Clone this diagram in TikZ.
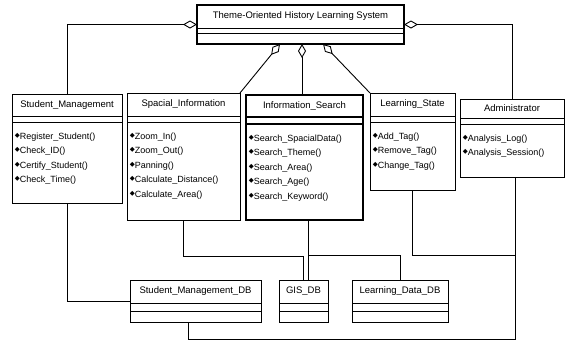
\documentclass[tikz,border=0pt]{standalone}
\usepackage{fontspec}
\setmainfont{Liberation Sans}
\newfontfamily\symfont{DejaVu Sans}
\usetikzlibrary{arrows.meta}
\tikzset{
  clsbox/.style={draw, line width=0.8pt, inner sep=0pt, outer sep=0pt},
  boldbox/.style={clsbox, line width=1.2pt},
  cname/.style={inner sep=0.75pt, font=\fontsize{9.5}{11}\selectfont},
  oper/.style={anchor=west, inner sep=0.75pt, font=\fontsize{9}{11}\selectfont},
  link/.style={line width=0.9pt},
  agg/.style={link, {Diamond[open, length=14pt, width=8pt, line width=0.9pt]}-},
}
\newcommand{\opmark}{\raisebox{0.4ex}{\symfont\fontsize{6.5}{6.5}\selectfont ◆}}
\begin{document}
\begin{tikzpicture}[x=1pt,y=1pt,yscale=-1,xscale=1]
\useasboundingbox (0,0) rectangle (573,341);

%Shape: Class Rectangles
\node [boldbox, minimum width=207pt, minimum height=39pt] (sys) at (300.5,24.5) {};
\node [clsbox, minimum width=110pt, minimum height=109pt] (sm) at (67,148.5) {};
\node [clsbox, minimum width=113pt, minimum height=127pt] (si) at (183.5,156.5) {};
\node [boldbox, minimum width=117pt, minimum height=125pt] (is) at (304.5,157.5) {};
\node [clsbox, minimum width=85pt, minimum height=97pt] (ls) at (412.5,141.5) {};
\node [clsbox, minimum width=104pt, minimum height=78pt] (ad) at (512,138) {};
\node [clsbox, minimum width=131pt, minimum height=42pt] (smdb) at (195.5,301) {};
\node [clsbox, minimum width=49pt, minimum height=42pt] (gis) at (303.5,301) {};
\node [clsbox, minimum width=96pt, minimum height=42pt] (ldb) at (400,301) {};

%Shape: Compartment Lines
\draw [line width=0.8pt] (sys.west |- 0,28) -- (sys.east |- 0,28) (sys.west |- 0,33) -- (sys.east |- 0,33);
\draw [line width=0.8pt] (sm.west |- 0,116) -- (sm.east |- 0,116) (sm.west |- 0,122) -- (sm.east |- 0,122);
\draw [line width=0.8pt] (si.west |- 0,116) -- (si.east |- 0,116) (si.west |- 0,122) -- (si.east |- 0,122);
\draw [line width=1.2pt] (is.west |- 0,117) -- (is.east |- 0,117) (is.west |- 0,124) -- (is.east |- 0,124);
\draw [line width=0.8pt] (ls.west |- 0,116) -- (ls.east |- 0,116) (ls.west |- 0,122) -- (ls.east |- 0,122);
\draw [line width=0.8pt] (ad.west |- 0,118) -- (ad.east |- 0,118) (ad.west |- 0,124) -- (ad.east |- 0,124);
\draw [line width=0.8pt] (smdb.west |- 0,303) -- (smdb.east |- 0,303) (smdb.west |- 0,311) -- (smdb.east |- 0,311);
\draw [line width=0.8pt] (gis.west |- 0,303) -- (gis.east |- 0,303) (gis.west |- 0,311) -- (gis.east |- 0,311);
\draw [line width=0.8pt] (ldb.west |- 0,303) -- (ldb.east |- 0,303) (ldb.west |- 0,311) -- (ldb.east |- 0,311);

% Text Node
\node [cname] (sysname) at (300.5,16.5) {Theme-Oriented History Learning System};
\node [cname] (smname) at (67,105) {Student\_Management};
\node [cname] (siname) at (183.5,104.5) {Spacial\_Information};
\node [cname] (isname) at (304.5,106) {Information\_Search};
\node [cname] (lsname) at (412.5,104.5) {Learning\_State};
\node [cname] (adname) at (512,108.5) {Administrator};
\node [cname] (smdbname) at (195.5,291.5) {Student\_Management\_DB};
\node [cname] (gisname) at (303.5,291.5) {GIS\_DB};
\node [cname] (ldbname) at (400,291.5) {Learning\_Data\_DB};

% Text Node
\node [oper] (sm1) at (14,137) {\opmark Register\_Student()};
\node [oper] (sm2) at (14,151.5) {\opmark Check\_ID()};
\node [oper] (sm3) at (14,166) {\opmark Certify\_Student()};
\node [oper] (sm4) at (14,180.5) {\opmark Check\_Time()};
% Text Node
\node [oper] (si1) at (129,137) {\opmark Zoom\_In()};
\node [oper] (si2) at (129,151.5) {\opmark Zoom\_Out()};
\node [oper] (si3) at (129,166) {\opmark Panning()};
\node [oper] (si4) at (129,180.5) {\opmark Calculate\_Distance()};
\node [oper] (si5) at (129,195) {\opmark Calculate\_Area()};
% Text Node
\node [oper] (is1) at (248,139) {\opmark Search\_SpacialData()};
\node [oper] (is2) at (248,153.5) {\opmark Search\_Theme()};
\node [oper] (is3) at (248,168) {\opmark Search\_Area()};
\node [oper] (is4) at (248,182.5) {\opmark Search\_Age()};
\node [oper] (is5) at (248,197) {\opmark Search\_Keyword()};
% Text Node
\node [oper] (ls1) at (372,137) {\opmark Add\_Tag()};
\node [oper] (ls2) at (372,151.5) {\opmark Remove\_Tag()};
\node [oper] (ls3) at (372,166) {\opmark Change\_Tag()};
% Text Node
\node [oper] (ad1) at (462,139) {\opmark Analysis\_Log()};
\node [oper] (ad2) at (462,153.5) {\opmark Analysis\_Session()};

%Shape: Aggregations
\coordinate (aggL) at (280,44);
\coordinate (aggM) at (302,44);
\coordinate (aggR) at (323,44);
\draw [agg] (sys.west) -| (sm.north);
\draw [agg] (sys.east) -| (ad.north);
\draw [agg] (aggL) -- (si.north east);
\draw [agg] (aggM) -- (aggM |- is.north);
\draw [agg] (aggR) -- (ls.north west);

%Shape: Database Links
\coordinate (isB) at (308,220);
\coordinate (adB) at (515,177);
\coordinate (smdbB) at (188,322);
\draw [link] (sm.south) |- (smdb);
\draw [link] (si.south) -- ++(0,36) -| (gis.north);
\draw [link] (isB) -- (isB |- gis.north);
\draw [link] (isB) ++(0,35) -| (ldb.north);
\draw [link] (ls.south) |- (adB |- 0,255);
\draw [link] (adB) -- ++(0,162) -| (smdbB);

\end{tikzpicture}
\end{document}
